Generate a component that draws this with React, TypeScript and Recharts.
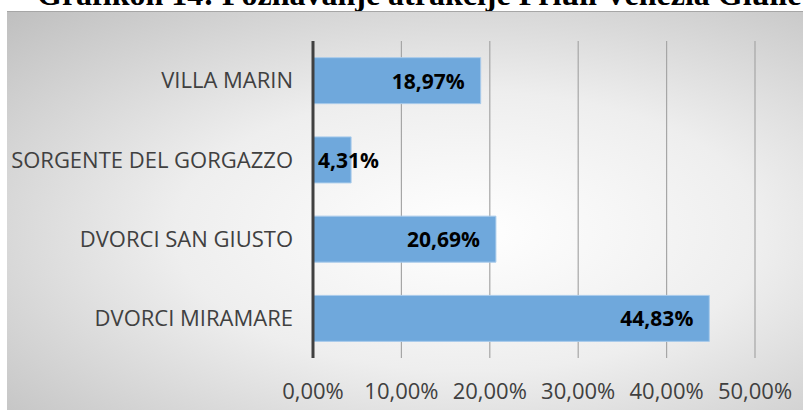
import React from 'react';
import { BarChart, Bar, XAxis, YAxis, CartesianGrid, LabelList } from 'recharts';

const categories = ['VILLA MARIN', 'SORGENTE DEL GORGAZZO', 'DVORCI SAN GIUSTO', 'DVORCI MIRAMARE'];
const shares = [18.97, 4.31, 20.69, 44.83];
const xTicks = [0, 10, 20, 30, 40, 50];

const data = categories.map((name, i) => ({ name, value: shares[i] }));

const fmt = (v: number) => v.toFixed(2).replace('.', ',') + '%';
const font = '"Open Sans", sans-serif';

const BarLabel = (props: any) => {
  const { x, y, width, height, value } = props;
  const text = fmt(value);
  const cy = y + height / 2;
  // small bars get the label just past the start, like Excel does
  if (width < 90) {
    return (
      <text x={x + 5} y={cy} dominantBaseline="central" textAnchor="start"
        fontFamily={font} fontSize={21} fontWeight="bold" fill="#000">{text}</text>
    );
  }
  return (
    <text x={x + width - 16} y={cy} dominantBaseline="central" textAnchor="end"
      fontFamily={font} fontSize={21} fontWeight="bold" fill="#000">{text}</text>
  );
};

const App = () => {
  return (
    <div style={{ position: 'absolute', left: 0, top: 0, width: 811, height: 410, overflow: 'hidden', background: '#fff' }}>
      <div style={{
        position: 'absolute', left: 37, top: -22, whiteSpace: 'nowrap',
        fontFamily: '"Liberation Serif", serif', fontWeight: 'bold', fontSize: 32, lineHeight: 1, color: '#000'
      }}>
        Grafikon 14: Poznavanje atrakcije Friuli Venezia Giulie
      </div>
      <div style={{
        position: 'absolute', left: 7, top: 11, width: 796, height: 399,
        borderTop: '1px solid #a6a6a6',
        background: 'radial-gradient(ellipse at 58% 55%, #ffffff 0%, #eeeeee 45%, #bfbfbf 100%)'
      }}>
        <BarChart width={796} height={399} data={data} layout="vertical"
          margin={{ top: 29, right: 48, bottom: 23, left: 0 }} barCategoryGap="21%">
          <CartesianGrid horizontal={false} stroke="#a6a6a6" strokeWidth={1.2} />
          <XAxis type="number" domain={[0, 50]} ticks={xTicks} tickFormatter={fmt}
            axisLine={false} tickLine={false} tickSize={0} tickMargin={25} height={30}
            tick={{ fill: '#404040', fontSize: 22, fontFamily: font }} interval={0} />
          <YAxis type="category" dataKey="name" width={306}
            axisLine={{ stroke: '#404040', strokeWidth: 3 }} tickLine={false} tickSize={0} tickMargin={20}
            tick={{ fill: '#404040', fontSize: 22, fontFamily: font }} />
          <Bar dataKey="value" fill="#6fa8dc" stroke="#a9cbeb" strokeWidth={1} isAnimationActive={false}>
            <LabelList dataKey="value" content={BarLabel} />
          </Bar>
        </BarChart>
      </div>
    </div>
  );
};

export default App;
